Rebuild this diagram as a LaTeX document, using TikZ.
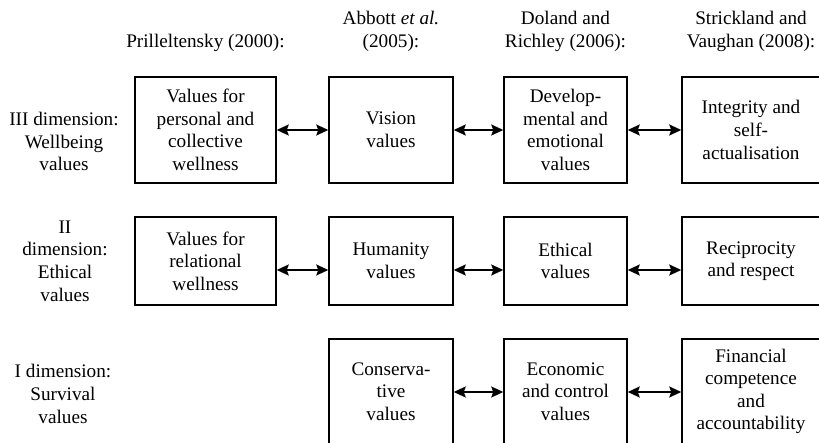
\documentclass[tikz,border=0pt]{standalone}
\usepackage{fontspec}
\setmainfont{Liberation Serif}
\usetikzlibrary{arrows.meta}
\begin{document}
\begin{tikzpicture}[x=1pt,y=-1pt,
  every node/.style={font=\fontsize{19.2}{22.6}\selectfont, align=center, inner sep=0pt},
  cell/.style={draw, line width=1.5pt},
  link/.style={line width=1.8pt, {Stealth[length=12pt,width=11pt,inset=2pt]}-{Stealth[length=12pt,width=11pt,inset=2pt]}}]
\useasboundingbox (0,0) rectangle (819,443);
\fill[white] (0,0) rectangle (819,443);
% headers
\node (h1) at (205.5,43) {Prilleltensky (2000):};
\node (h2) at (391,31.5) {Abbott \textit{et al.}\\(2005):};
\node (h3) at (565.5,31.5) {Doland and\\Richley (2006):};
\node (h4) at (751,31.5) {Strickland and\\Vaughan (2008):};
% row labels
\node (l1) at (64,141.5) {III dimension:\\Wellbeing\\values};
\node (l2) at (65,261) {II\\dimension:\\Ethical\\values};
\node (l3) at (63,394) {I dimension:\\Survival\\values};
% row 1
\node[cell, minimum width=141pt, minimum height=106pt] (b11) at (205.5,130) {Values for\\personal and\\collective\\wellness};
\node[cell, minimum width=124pt, minimum height=106pt] (b12) at (391,130) {Vision\\values};
\node[cell, minimum width=123pt, minimum height=106pt] (b13) at (565.5,130) {Develop-\\mental and\\emotional\\values};
\node[cell, minimum width=138pt, minimum height=106pt] (b14) at (751,130) {Integrity and\\self-\\actualisation};
% row 2
\node[cell, minimum width=141pt, minimum height=88pt] (b21) at (205.5,261) {Values for\\relational\\wellness};
\node[cell, minimum width=124pt, minimum height=88pt] (b22) at (391,261) {Humanity\\values};
\node[cell, minimum width=123pt, minimum height=88pt] (b23) at (565.5,261) {Ethical\\values};
\node[cell, minimum width=138pt, minimum height=88pt] (b24) at (751,261) {Reciprocity\\and respect};
% row 3
\node[cell, minimum width=124pt, minimum height=105pt] (b32) at (391,391.5) {Conserva-\\tive\\values};
\node[cell, minimum width=123pt, minimum height=105pt] (b33) at (565.5,391.5) {Economic\\and control\\values};
\node[cell, minimum width=138pt, minimum height=105pt] (b34) at (751,391.5) {Financial\\competence\\and\\accountability};
% connectors
\draw[link] (b11.east) -- (b12.west);
\draw[link] (b12.east) -- (b13.west);
\draw[link] (b13.east) -- (b14.west);
\draw[link] (b21.east |- 0,270) -- (b22.west |- 0,270);
\draw[link] (b22.east |- 0,270) -- (b23.west |- 0,270);
\draw[link] (b23.east |- 0,270) -- (b24.west |- 0,270);
\draw[link] (b32.east |- 0,392) -- (b33.west |- 0,392);
\draw[link] (b33.east |- 0,392) -- (b34.west |- 0,392);
\end{tikzpicture}
\end{document}
